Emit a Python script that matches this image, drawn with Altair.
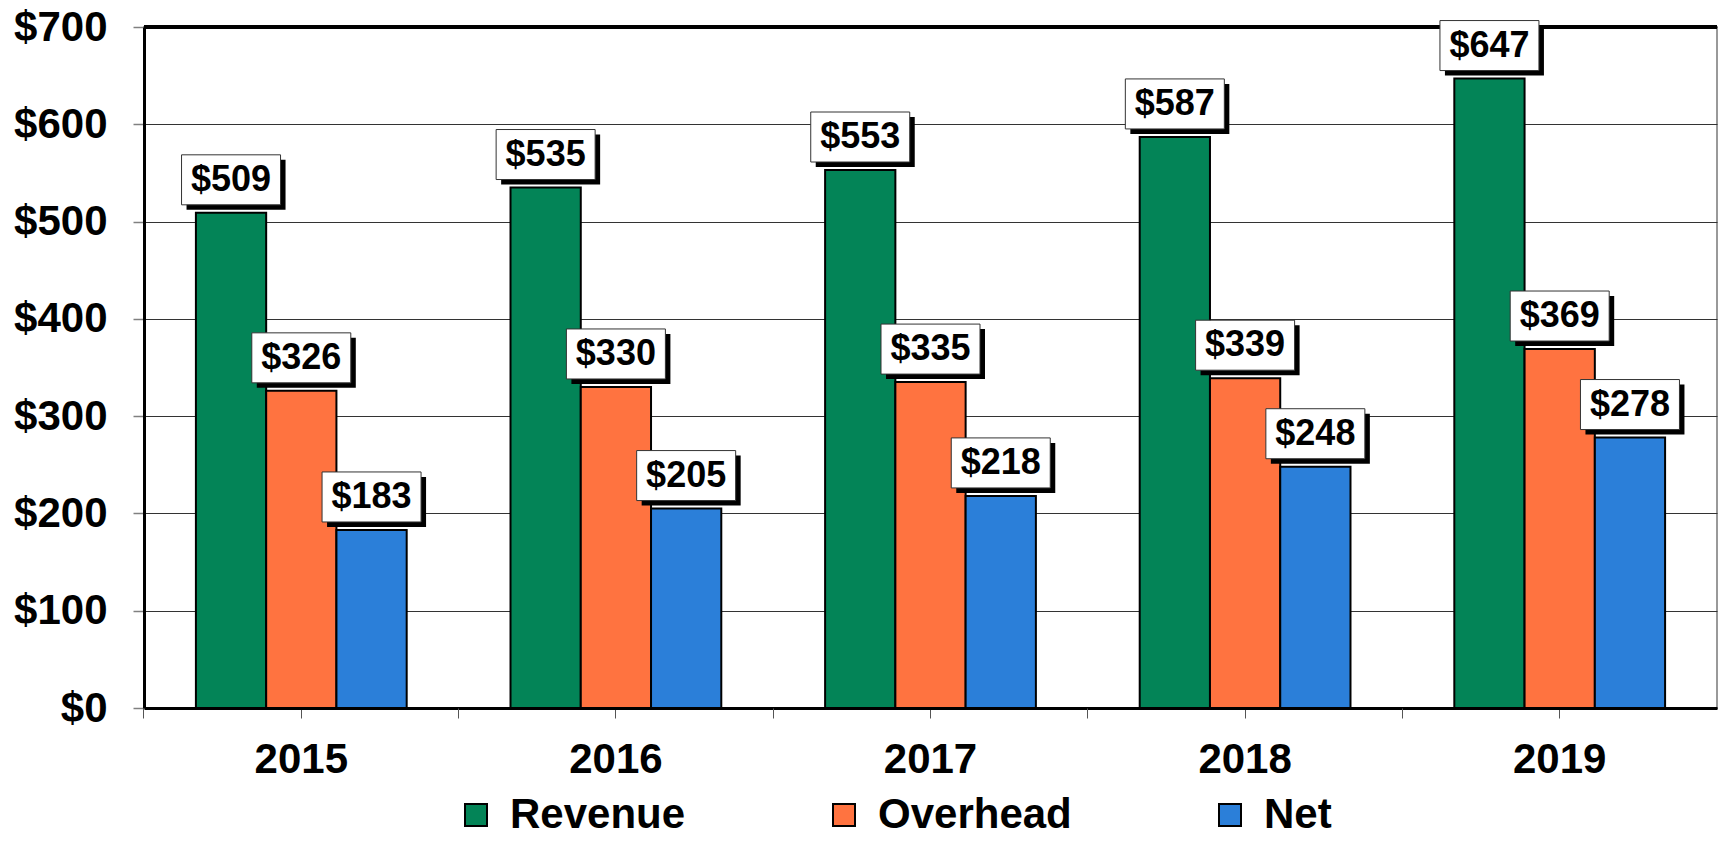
import altair as alt
import pandas as pd

years = ["2015", "2016", "2017", "2018", "2019"]
series = ["Revenue", "Overhead", "Net"]
revenue = [509, 535, 553, 587, 647]
overhead = [326, 330, 335, 339, 369]
net = [183, 205, 218, 248, 278]
colors = ["#038457", "#FF7340", "#2B7FD9"]
y_ticks = [0, 100, 200, 300, 400, 500, 600, 700]
y_max = 700

rows = []
for s, vals in zip(series, [revenue, overhead, net]):
    for yr, v in zip(years, vals):
        rows.append({"year": yr, "series": s, "value": v})
df = pd.DataFrame(rows)

FONT = "Liberation Sans"
PLOT_W = 1573
PLOT_H = 681
P_IN = 0.33
P_OUT = 0.165
x_scale = alt.Scale(paddingInner=P_IN, paddingOuter=P_OUT)
step = PLOT_W / 5.0
bandw = step * (1 - P_IN)

main_x_axis = alt.Axis(
    title=None, labelFontSize=42, labelFont=FONT, labelFontWeight="bold",
    labelColor="black", labelPadding=21, labelAngle=0, ticks=True, tickSize=10,
    tickColor="#555555", tickWidth=1, domain=True, domainColor="black",
    domainWidth=3, grid=False, orient="bottom",
)
bound_x_axis = alt.Axis(
    title=None, labels=False, ticks=True, bandPosition=-(P_OUT * step) / bandw,
    tickSize=10, tickColor="#555555", tickWidth=1, domain=False, grid=False,
    orient="bottom",
)
y_axis = alt.Axis(
    title=None, values=y_ticks, labelExpr="'$' + datum.value", labelFontSize=42,
    labelFont=FONT, labelFontWeight="bold", labelColor="black", labelPadding=26,
    tickSize=11, tickColor="#808080", tickWidth=1.5, domainColor="black",
    domainWidth=3, grid=True, gridColor="#333333", gridWidth=1,
)
y_enc = alt.Y("value:Q", scale=alt.Scale(domain=[0, y_max], nice=False), axis=y_axis)
xoff = alt.XOffset("series:N", sort=series, scale=alt.Scale(paddingInner=0, paddingOuter=0))

base = alt.Chart(df)

top_rule = base.mark_rule(color="black", strokeWidth=3).encode(y=alt.datum(y_max))

bars = base.mark_bar(stroke="black", strokeWidth=2).encode(
    x=alt.X("year:N", sort=years, scale=x_scale, axis=main_x_axis),
    xOffset=xoff,
    y=y_enc,
    color=alt.Color(
        "series:N", sort=series, scale=alt.Scale(domain=series, range=colors),
        legend=alt.Legend(
            title=None, orient="none", legendX=311, legendY=767, direction="horizontal",
            symbolType="square", symbolSize=484, symbolStrokeColor="black",
            symbolStrokeWidth=2, symbolOpacity=1, labelFontSize=42, labelFont=FONT,
            labelFontWeight="bold", labelColor="black", labelOffset=13,
            labelLimit=600, columnPadding=137, padding=0,
        ),
    ),
)

shadow = base.mark_bar(fill="black", width=99, yOffset=-3, y2Offset=-53).encode(
    x=alt.X("year:N", sort=years, scale=x_scale, axis=bound_x_axis),
    xOffset=alt.XOffset("series:N", sort=series,
                        scale=alt.Scale(range=[5, bandw + 5], paddingInner=0, paddingOuter=0)),
    y=alt.Y("value:Q"),
    y2=alt.Y2("value"),
)

box = base.mark_bar(fill="white", stroke="#333333", strokeWidth=1, width=99,
                    yOffset=-8, y2Offset=-58).encode(
    x=alt.X("year:N", sort=years, scale=x_scale, axis=None),
    xOffset=xoff,
    y=alt.Y("value:Q"),
    y2=alt.Y2("value"),
)

labels = base.transform_calculate(label="'$' + datum.value").mark_text(
    font=FONT, fontSize=36, fontWeight="bold", color="black",
    dy=-33, baseline="middle", align="center",
).encode(
    x=alt.X("year:N", sort=years, scale=x_scale, axis=None),
    xOffset=alt.XOffset("series:N", sort=series, scale=alt.Scale(type="point", padding=0.5)),
    y=alt.Y("value:Q"),
    text="label:N",
)

chart = alt.layer(top_rule, bars, shadow, box, labels).resolve_scale(
    xOffset="independent"
).resolve_axis(x="independent").properties(
    width=PLOT_W, height=PLOT_H,
    autosize=alt.AutoSizeParams(type="none"),
    padding={"left": 136, "top": 19, "right": 2, "bottom": 122},
    background="white",
).configure_view(stroke="#999999", strokeWidth=2)

chart.save("out.html", embed_options={"renderer": "svg", "actions": False})
